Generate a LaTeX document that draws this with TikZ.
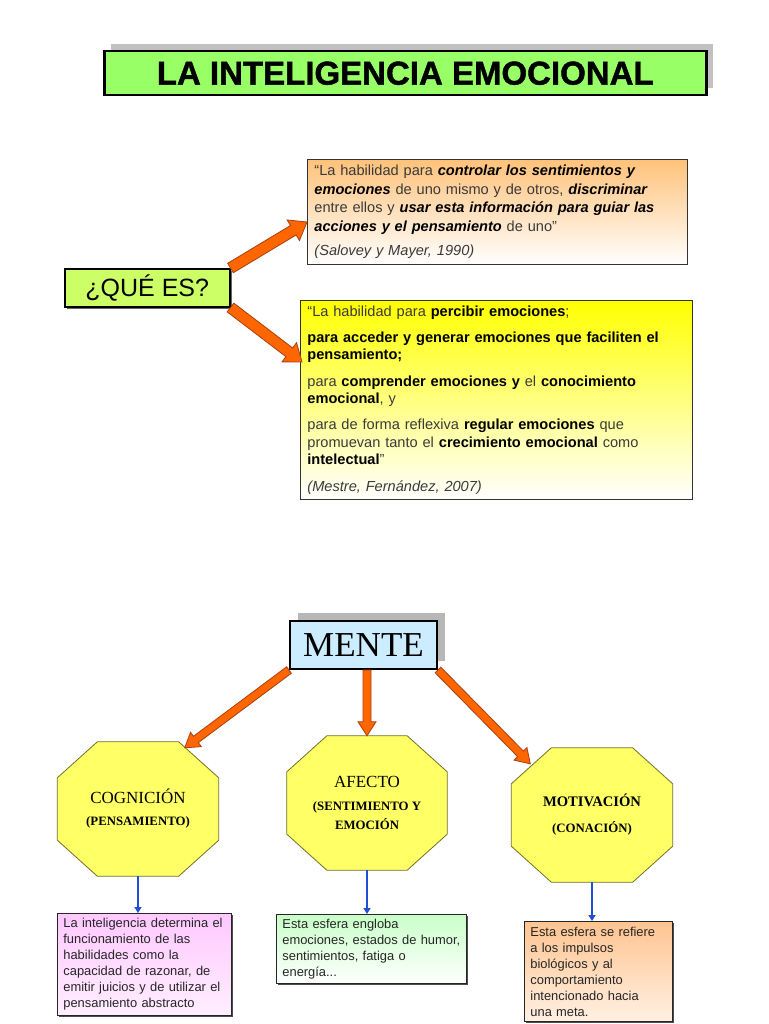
\documentclass[tikz,border=0pt]{standalone}
\usepackage{fontspec}
\setmainfont{Liberation Sans}
\newfontfamily\tnr{Liberation Serif}
\newfontfamily\titlefont[FakeBold=1.2]{Liberation Sans Bold}
\usetikzlibrary{calc,shadows,backgrounds,arrows.meta}
\definecolor{titlegreen}{HTML}{99FF66}
\definecolor{quegreen}{HTML}{CCFF66}
\definecolor{menteblue}{HTML}{CCECFF}
\definecolor{octfill}{HTML}{FFFF66}
\definecolor{octline}{HTML}{70702A}
\definecolor{arrorange}{HTML}{FF6600}
\definecolor{arrline}{HTML}{A84010}
\definecolor{qonetop}{HTML}{FFC27A}
\definecolor{qtwotop}{HTML}{FFFF00}
\definecolor{pinktop}{HTML}{FFC8FF}
\definecolor{greentop}{HTML}{C8FFC8}
\definecolor{peachtop}{HTML}{FFC490}
\definecolor{arrblue}{HTML}{1F4FD6}
\definecolor{txtgray}{HTML}{3A3A3A}
\newcommand\fs[2]{\fontsize{#1}{#2}\selectfont}
\newcommand\bi[1]{{\bfseries\itshape\color{black}#1}}
\newcommand\bd[1]{{\bfseries\color{black}#1}}
\newcommand\octsub{\bfseries\fs{12.8}{17}}
\newcommand\blkarrow[5]{%
  \coordinate (bacc) at ($(#2)!#5!(#1)$);
  \filldraw[blkarr] ($(#1)!#3!90:(#2)$) -- ($(bacc)!#3!90:(#2)$) -- ($(bacc)!#4!90:(#2)$) -- (#2)
    -- ($(bacc)!#4!-90:(#2)$) -- ($(bacc)!#3!-90:(#2)$) -- ($(#1)!#3!-90:(#2)$) -- cycle;}
\newcommand\octo[1]{%
  \filldraw[octstyle] ($(#1.north west)+(40,0)$) -- ($(#1.north east)+(-40,0)$) -- ($(#1.north east)+(0,36)$)
    -- ($(#1.south east)+(0,-36)$) -- ($(#1.south east)+(-40,0)$) -- ($(#1.south west)+(40,0)$)
    -- ($(#1.south west)+(0,-36)$) -- ($(#1.north west)+(0,36)$) -- cycle;}
\tikzset{
  blkarr/.style={fill=arrorange, draw=arrline, line width=0.8pt, line join=miter},
  octstyle/.style={fill=octfill, draw=octline, line width=0.8pt},
  octnode/.style={minimum width=161, minimum height=134, inner sep=0, align=center, font=\tnr\fs{17}{19}},
  quote/.style={anchor=north west, draw=black!80, line width=0.8pt, inner xsep=7, inner ysep=0,
     align=left, text=txtgray, font=\fs{14.6}{18.5}},
  smallbox/.style={anchor=north west, draw=black!85, line width=0.8pt, inner xsep=6, inner ysep=0,
     align=left, text=black!85, font=\fs{12.9}{16}, drop shadow={shadow xshift=1.5pt, shadow yshift=-1.5pt, fill=black!70, opacity=1}},
  bluearr/.style={draw=arrblue, line width=2pt, -{Triangle[length=6pt,width=7pt]}}
}
\begin{document}
\begin{tikzpicture}[x=1pt,y=-1pt]
\useasboundingbox (0,0) rectangle (768,1024);
\begin{pgfonlayer}{background}
\fill[white] (0,0) rectangle (768,1024);
\end{pgfonlayer}

% title
\node[anchor=north west, minimum width=602, minimum height=44, inner sep=0, fill=titlegreen, draw=black, line width=2.5pt,
  drop shadow={shadow xshift=7pt, shadow yshift=7pt, fill=black!30, opacity=0.8},
  font=\titlefont\fs{33}{33}] (title) at (103,50) {LA INTELIGENCIA EMOCIONAL};

% que es
\node[anchor=north west, minimum width=165, minimum height=38, inner sep=0, fill=quegreen, draw=black, line width=1.5pt,
  drop shadow={shadow xshift=2pt, shadow yshift=-2pt, fill=black!60, opacity=1},
  font=\fs{25}{25}] (que) at (64,268) {¿QUÉ ES?};

% quote boxes
\node[quote, minimum width=378, minimum height=105, text width=366, top color=qonetop, bottom color=white] (q1) at (307,159)
{“La habilidad para \bi{controlar los sentimientos y}\\
\bi{emociones} de uno mismo y de otros, \bi{discriminar}\\
entre ellos y \bi{usar esta información para guiar las}\\
\bi{acciones y el pensamiento} de uno”\\[6pt]
\textit{(Salovey y Mayer, 1990)}};

\node[quote, minimum width=390, minimum height=199, text width=378, top color=qtwotop, bottom color=white, font=\fs{14.6}{17.6}] (q2) at (300,300)
{“La habilidad para \bd{percibir emociones};\\[8.5pt]
\bd{para acceder y generar emociones que faciliten el}\\
\bd{pensamiento;}\\[8.5pt]
para \bd{comprender emociones y} el \bd{conocimiento}\\
\bd{emocional}, y\\[8.5pt]
para de forma reflexiva \bd{regular emociones} que\\
promuevan tanto el \bd{crecimiento emocional} como\\
\bd{intelectual}”\\[8.5pt]
\textit{(Mestre, Fernández, 2007)}};

\coordinate (qonetip) at ($(q1.north west)+(0,63)$);
\coordinate (qtwotip) at ($(q2.north west)+(2,62)$);
\blkarrow{que.north east}{qonetip}{5.5pt}{12pt}{16pt}
\blkarrow{que.south east}{qtwotip}{5.5pt}{12pt}{16pt}

% mente
\node[anchor=north west, minimum width=147, minimum height=48, inner sep=0, fill=menteblue, draw=black, line width=2pt,
  drop shadow={shadow xshift=8pt, shadow yshift=8pt, fill=black!35, opacity=0.8},
  font=\tnr\fs{35}{35}] (mente) at (289,620) {MENTE};

% octagons
\node[octnode] (cog) at (138,809) {COGNICIÓN\\[3pt]\octsub(PENSAMIENTO)};
\node[octnode, minimum width=160] (afe) at (367,803) {AFECTO\\[4pt]\octsub(SENTIMIENTO Y\\\octsub EMOCIÓN};
\node[octnode] (mot) at (592,815) {\bfseries\fs{14.6}{19}MOTIVACIÓN\\[7pt]\octsub(CONACIÓN)};
\begin{pgfonlayer}{background}
\octo{cog}
\octo{afe}
\octo{mot}
\end{pgfonlayer}

\coordinate (cogtip) at ($(cog.north east)+(-34,6)$);
\coordinate (mottip) at ($(mot.north west)+(19,16)$);
\blkarrow{mente.south west}{cogtip}{4pt}{9pt}{14pt}
\blkarrow{afe.north |- mente.south}{afe.north}{4pt}{9pt}{14pt}
\blkarrow{mente.south east}{mottip}{4pt}{9pt}{14pt}

% bottom boxes
\node[smallbox, minimum width=174, minimum height=102, text width=162, top color=pinktop, bottom color=pinktop!30] (pink) at (57,913)
{La inteligencia determina el\\ funcionamiento de las\\ habilidades como la\\ capacidad de razonar, de\\ emitir juicios y de utilizar el\\ pensamiento abstracto};
\node[smallbox, minimum width=190, minimum height=69, text width=178, top color=greentop, bottom color=white] (green) at (276,914)
{Esta esfera engloba\\ emociones, estados de humor,\\ sentimientos, fatiga o\\ energía...};
\node[smallbox, minimum width=148, minimum height=100, text width=136, top color=peachtop, bottom color=peachtop!25] (peach) at (524,921)
{Esta esfera se refiere\\ a los impulsos\\ biológicos y al\\ comportamiento\\ intencionado hacia\\ una meta.};

\draw[bluearr] (cog.south) -- (cog.south |- pink.north);
\draw[bluearr] (afe.south) -- (afe.south |- green.north);
\draw[bluearr] (mot.south) -- (mot.south |- peach.north);
\end{tikzpicture}
\end{document}
